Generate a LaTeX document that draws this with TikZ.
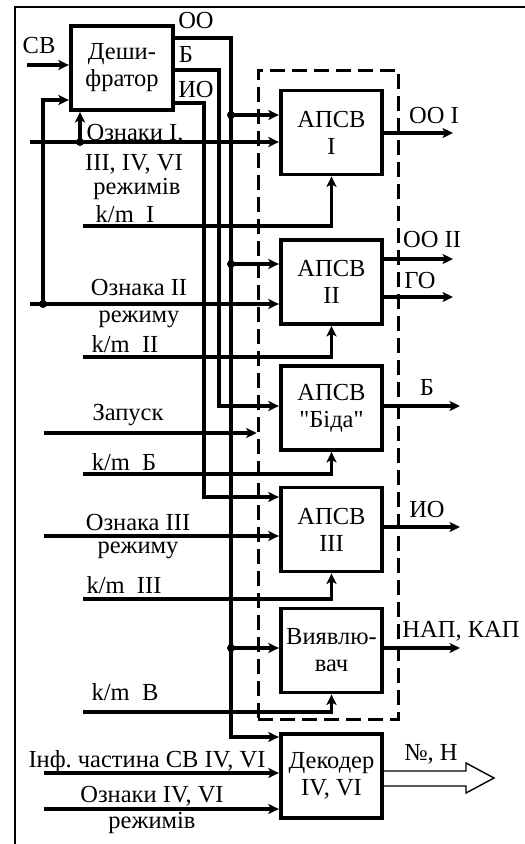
\documentclass[tikz,border=0pt]{standalone}
\usepackage{fontspec}
\setmainfont{Liberation Serif}
\usetikzlibrary{arrows.meta}
\newcommand{\fs}{\fontsize{24.5}{27}\selectfont}
\frenchspacing
\begin{document}
\begin{tikzpicture}[x=1pt,y=-1pt,
  conn/.style={line width=3.2pt},
  arr/.style={conn,-{Stealth[length=10.5pt,width=10pt,inset=2.5pt]}},
  blk/.style={draw,line width=3.8pt,minimum width=101.5pt,minimum height=84pt,inner sep=0pt,align=center,font=\fs},
  lbl/.style={anchor=base,inner sep=0pt,font=\fs},
  dot/.style={circle,fill,inner sep=0pt,minimum size=8pt},
  grpbox/.style={draw,line width=3.2pt,dash pattern=on 15pt off 7pt,minimum width=140pt,minimum height=649pt,inner sep=0pt},
  hollow/.style={line width=1.4pt,line join=miter}]
\useasboundingbox (0,0) rectangle (525,844);
% frame
\draw[line width=2.8pt] (15,844) -- (15,7) -- (525,7);
% group
\node[grpbox] (grp) at (328.3,394.75) {};
% blocks
\node[blk,minimum width=102.5pt] (Dec) at (122,68) {Деши-\\фратор};
\node[blk] (A1) at (331.5,132.5) {АПСВ\\I};
\node[blk] (A2) at (331.5,282) {АПСВ\\II};
\node[blk] (AB) at (331.5,408) {АПСВ\\\textquotedbl Біда\textquotedbl};
\node[blk] (A3) at (331.5,529.5) {АПСВ\\III};
\node[blk] (V) at (331.5,650.5) {Виявлю-\\вач};
\node[blk] (D) at (331.5,776) {Декодер\\IV, VI};
% free ends
\coordinate (inCB) at (27,65);
\coordinate (inI) at (30,142);
\coordinate (inII) at (30,304);
\coordinate (inZ) at (44,433);
\coordinate (inIII) at (44,536);
\coordinate (inInf) at (44,773);
\coordinate (inIV) at (44,809);
\coordinate (km1) at (83,226);
\coordinate (km2) at (83,357);
\coordinate (kmB) at (83,474);
\coordinate (km3) at (83,599);
\coordinate (kmV) at (83,712);
% dots
\node[dot] (d1) at (80,142) {};
\node[dot] (d2) at (43,304) {};
\node[dot] (d3) at (231,115) {};
\node[dot] (d4) at (231,264) {};
\node[dot] (d5) at (231,648) {};
% decoder inputs
\draw[arr] (inCB) -- (Dec.west |- inCB);
\draw[arr] (d1.center) -- (d1.center |- Dec.south);
\draw[arr] (d2.center) -- (43,100) -- (Dec.west |- 0,100);
% decoder outputs
\draw[arr] (Dec.east |- 0,38) -| (231,737) -- (D.west |- 0,737);
\draw[arr] (Dec.east |- 0,70) -| (219,406) -- (AB.west |- 0,406);
\draw[arr] (Dec.east |- 0,103) -| (204,497) -- (A3.west |- 0,497);
\draw[arr] (d3.center) -- (A1.west |- d3.center);
\draw[arr] (d4.center) -- (A2.west |- d4.center);
\draw[arr] (d5.center) -- (V.west |- d5.center);
% left inputs
\draw[arr] (inI) -- (A1.west |- inI);
\draw[arr] (inII) -- (A2.west |- inII);
\draw[arr] (inZ) -- (grp.west |- inZ);
\draw[arr] (inIII) -- (A3.west |- inIII);
\draw[arr] (inInf) -- (D.west |- inInf);
\draw[arr] (inIV) -- (D.west |- inIV);
\draw[arr] (km1) -| (A1.south);
\draw[arr] (km2) -| (A2.south);
\draw[arr] (kmB) -| (AB.south);
\draw[arr] (km3) -| (A3.south);
\draw[arr] (kmV) -| (V.south);
% outputs
\draw[arr] (A1.east |- 0,133) -- (453,133);
\draw[arr] (A2.east |- 0,259) -- (453,259);
\draw[arr] (A2.east |- 0,297) -- (453,297);
\draw[arr] (AB.east |- 0,406) -- (460,406);
\draw[arr] (A3.east |- 0,527) -- (460,527);
\draw[arr] (V.east |- 0,648) -- (460,648);
\draw[hollow] (D.east |- 0,771) -- (466,771) -- (466,763) -- (494,778) -- (466,793) -- (466,786) -- (D.east |- 0,786);
% labels
\node[lbl] (tCB) at (39,53) {СВ};
\node[lbl] (tOO) at (196,28) {ОО};
\node[lbl] (tB) at (186,62) {Б};
\node[lbl] (tIO) at (196,97) {ИО};
\node[lbl] (l1) at (135,140) {Ознаки I,};
\node[lbl] (l2) at (134,170) {III, IV, VI};
\node[lbl] (l3) at (137,194) {режимів};
\node[lbl] (l4) at (125,222) {k/m\ \ I};
\node[lbl] (l5) at (139,295) {Ознака II};
\node[lbl] (l6) at (139,322) {режиму};
\node[lbl] (l7) at (125,352) {k/m\ \ II};
\node[lbl] (l8) at (128,420) {Запуск};
\node[lbl] (l9) at (124,470) {k/m\ \ Б};
\node[lbl] (l10) at (138,530) {Ознака III};
\node[lbl] (l11) at (138,553) {режиму};
\node[lbl] (l12) at (124,593) {k/m\ \ III};
\node[lbl] (l13) at (125,700) {k/m\ \ В};
\node[lbl] (l14) at (147,767) {Інф. частина СВ IV, VI};
\node[lbl] (l15) at (152,802) {Ознаки IV, VI};
\node[lbl] (l16) at (152,828) {режимів};
\node[lbl] (r1) at (434,123) {ОО I};
\node[lbl] (r2) at (432,247) {ОО II};
\node[lbl] (r3) at (420,288) {ГО};
\node[lbl] (r4) at (427,395) {Б};
\node[lbl] (r5) at (427,517) {ИО};
\node[lbl] (r6) at (461,637) {НАП, КАП};
\node[lbl] (r7) at (431,760) {№, Н};
\end{tikzpicture}
\end{document}
